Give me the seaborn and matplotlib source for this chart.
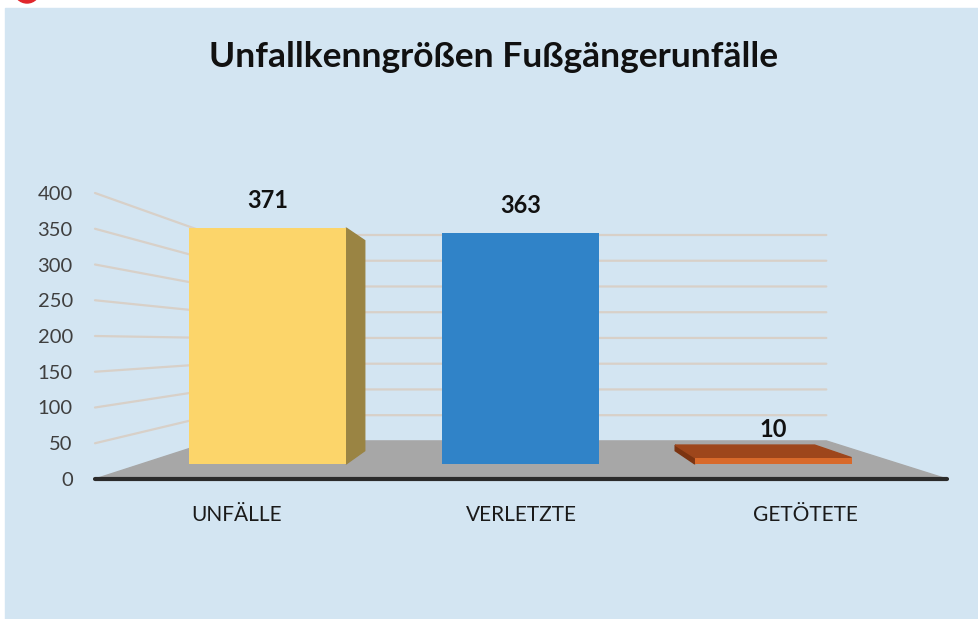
import numpy as np
import seaborn as sns
import matplotlib.pyplot as plt
from matplotlib.patches import Polygon, Rectangle, Circle

# chart data
categories = ["UNFÄLLE", "VERLETZTE", "GETÖTETE"]
values = [371, 363, 10]
y_ticks = [0, 50, 100, 150, 200, 250, 300, 350, 400]
title = "Unfallkenngrößen Fußgängerunfälle"

front_colors = ["#fcd56a", "#3083c8", "#d8692a"]
side_colors = ["#9a8443", "#2a6aa8", "#7c3411"]
top_colors = ["#fde6a0", "#5a9bd8", "#9e461b"]

W, H = 979, 619
VX, VY = 516, 343      # vanishing point (pixels)
WALL_DEPTH = 0.72      # back wall scale
BAR_PLANE = 0.89       # bar front plane scale
BAR_DEPTH = 0.89       # bar back relative to bar front


def frac(x0, y0, x1, y1):
    """pixel box (top-left origin) -> figure fraction rect"""
    return [x0 / W, 1 - y1 / H, (x1 - x0) / W, (y1 - y0) / H]


def project(x, y, s):
    return VX + (x - VX) * s, VY + (y - VY) * s


sns.set_theme(style="white")
plt.rcParams["font.family"] = ["Lato", "DejaVu Sans"]

fig = plt.figure(figsize=(W / 100, H / 100), dpi=100)
fig.patch.set_facecolor("white")

# pixel overlay for the 3d decoration
px = fig.add_axes([0, 0, 1, 1])
px.set_xlim(0, W)
px.set_ylim(H, 0)
px.axis("off")
px.add_patch(Rectangle((5, 8), W - 5, H - 8, color="#d3e5f2", zorder=0))
px.add_patch(Circle((27, -10), 13, color="#e0262b", zorder=0))

# front plane: y axis labels and category labels
fl, fr, ftop, fbot = 95, 947, 193, 479
axf = fig.add_axes(frac(fl, ftop, fr, fbot))
axf.set_xlim(-0.5, 2.5)
axf.set_ylim(0, 400)
axf.set_yticks(y_ticks)
axf.set_xticks(range(len(categories)), categories)
axf.patch.set_alpha(0)
for s in axf.spines.values():
    s.set_visible(False)
axf.tick_params(axis="y", length=0, pad=16, labelsize=14.5, labelcolor="#3f3f3f")
axf.tick_params(axis="x", length=0, pad=19, labelsize=15, labelcolor="#1a1a1a")


def front_y(v):
    return fbot - (fbot - ftop) * v / 400


# gridlines: front slant + back wall
for v in y_ticks[1:]:
    yf = front_y(v)
    bl = project(fl, yf, WALL_DEPTH)
    br = project(fr, yf, WALL_DEPTH)
    px.plot([fl, bl[0], br[0]], [yf, bl[1], br[1]], color="#d8d0c8", lw=1.6, zorder=1)

# floor
bl = project(fl, fbot, WALL_DEPTH)
br = project(fr, fbot, WALL_DEPTH)
px.add_patch(Polygon([(fl, fbot), bl, br, (fr, fbot)], closed=True, color="#a7a7a7", zorder=2))
px.plot([fl, fr], [fbot, fbot], color="#2b2b2b", lw=3, solid_capstyle="round", zorder=3)

# bar plane axes
bx0, by0 = project(fl, ftop, BAR_PLANE)
bx1, by1 = project(fr, fbot, BAR_PLANE)
axb = fig.add_axes(frac(bx0, by0, bx1, by1))
sns.barplot(x=categories, y=values, hue=categories, palette=front_colors,
            saturation=1, width=0.62, linewidth=0, legend=False, ax=axb)
axb.set_xlim(-0.5, 2.5)
axb.set_ylim(0, 400)
axb.axis("off")
axb.patch.set_alpha(0)

for i, p in enumerate(axb.patches):
    (x0, d0), (x1, d1) = axb.transData.transform(
        [(p.get_x(), 0), (p.get_x() + p.get_width(), p.get_height())])
    ybot, ytop = H - d0, H - d1
    b_x0, b_top = project(x0, ytop, BAR_DEPTH)
    b_x1, _ = project(x1, ytop, BAR_DEPTH)
    _, b_bot = project(x0, ybot, BAR_DEPTH)
    if x1 < VX:
        px.add_patch(Polygon([(x1, ytop), (b_x1, b_top), (b_x1, b_bot), (x1, ybot)],
                             closed=True, color=side_colors[i], zorder=4))
    if x0 > VX:
        px.add_patch(Polygon([(x0, ytop), (b_x0, b_top), (b_x0, b_bot), (x0, ybot)],
                             closed=True, color=side_colors[i], zorder=4))
    if ytop > VY:
        px.add_patch(Polygon([(x0, ytop), (x1, ytop), (b_x1, b_top), (b_x0, b_top)],
                             closed=True, color=top_colors[i], zorder=4))
    axb.annotate(f"{values[i]}", (p.get_x() + p.get_width() / 2, p.get_height()),
                 xytext=(0, 20), textcoords="offset points", ha="center", va="center",
                 fontsize=17, fontweight="bold", color="#111111")

fig.text(494 / W, 1 - 57 / H, title, ha="center", va="center",
         fontsize=25.5, fontweight="bold", color="#111111")

fig.savefig("out.png", dpi=100)
